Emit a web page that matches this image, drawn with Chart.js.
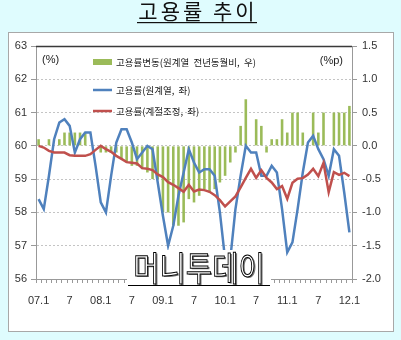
<!DOCTYPE html>
<html>
<head>
<meta charset="utf-8">
<script src="https://cdn.jsdelivr.net/npm/chart.js@4.4.1/dist/chart.umd.min.js"></script>
<style>
  html, body { margin: 0; padding: 0; background: #dffcfe; }
  canvas { display: block; }
</style>
</head>
<body>
<canvas id="chart" width="401" height="340"></canvas>
<script>
const months = [
  '07.1','07.2','07.3','07.4','07.5','07.6','07.7','07.8','07.9','07.10','07.11','07.12',
  '08.1','08.2','08.3','08.4','08.5','08.6','08.7','08.8','08.9','08.10','08.11','08.12',
  '09.1','09.2','09.3','09.4','09.5','09.6','09.7','09.8','09.9','09.10','09.11','09.12',
  '10.1','10.2','10.3','10.4','10.5','10.6','10.7','10.8','10.9','10.10','10.11','10.12',
  '11.1','11.2','11.3','11.4','11.5','11.6','11.7','11.8','11.9','11.10','11.11','11.12',
  '12.1'
];

// 고용률(원계열, 좌)
const rateRaw = [
  58.4, 58.1, 59.1, 60.2, 60.7, 60.8, 60.6, 59.8, 60.2, 60.4, 60.4, 59.4,
  58.3, 58.0, 59.1, 60.1, 60.5, 60.5, 60.1, 59.6, 59.8, 60.0, 59.9, 58.9,
  57.9, 57.0, 57.6, 58.5, 59.2, 59.9, 59.5, 59.2, 59.3, 59.3, 59.1, 58.0,
  56.6, 56.6, 58.1, 59.1, 60.0, 59.8, 59.8, 59.1, 59.1, 59.4, 59.2, 58.1,
  56.8, 57.1, 58.1, 59.2, 60.1, 60.3, 59.9, 59.6, 59.1, 59.9, 59.7, 58.6,
  57.4
];

// 고용률(계절조정, 좌)
const rateSA = [
  60.0, 59.95, 59.85, 59.8, 59.8, 59.8, 59.72, 59.7, 59.7, 59.7, 59.75, 59.88,
  60.0, 59.9, 59.82, 59.7, 59.61, 59.51, 59.49, 59.47, 59.33, 59.31, 59.27, 59.14,
  59.06, 58.91, 58.83, 58.73, 58.62, 58.83, 58.63, 58.69, 58.67, 58.62, 58.52, 58.37,
  58.18, 58.33, 58.48, 58.75, 59.04, 59.31, 59.04, 59.27, 59.04, 58.9, 58.7, 58.79,
  58.41, 58.89, 59.01, 59.03, 59.14, 59.31, 59.09, 59.49, 58.61, 59.21, 59.13, 59.19,
  59.09
];

// 고용률변동(원계열 전년동월비, 우)
const rateChange = [
  0.1, 0, 0.1, 0, 0.1, 0.2, 0.2, 0.2, 0.2, 0.2, 0, 0,
  -0.1, -0.1, -0.1, -0.1, -0.2, -0.25, -0.3, -0.3, -0.35, -0.4, -0.5, -0.5,
  -1.0, -1.0, -1.2, -1.2, -1.15, -0.8, -0.85, -0.75, -0.65, -0.7, -0.65, -0.55,
  -0.45, -0.25, -0.1, 0.3, 0.7, 0, 0.4, 0.3, -0.1, 0.1, 0.1, 0.4,
  0.2, 0.5, 0.5, 0.2, 0, 0.5, 0.2, 0.5, 0, 0.5, 0.5, 0.5,
  0.6
];

const seriesNames = ['고용률변동(원계열  전년동월비,  우)', '고용률(원계열,  좌)', '고용률(계절조정,  좌)'];
const titleText = '고용률 추이';
const watermark = '머니투데이';

const tickFont = { family: '"Liberation Sans", Arial, sans-serif', size: 11 };
const koFont = '"Noto Sans CJK KR", sans-serif';

// background, frame, title, legend, units, watermark
const decor = {
  id: 'decor',
  beforeDraw(chart) {
    const ctx = chart.ctx;
    ctx.save();
    ctx.fillStyle = '#dffcfe';
    ctx.fillRect(0, 0, chart.width, chart.height);
    ctx.fillStyle = '#ffffff';
    ctx.fillRect(8.5, 32.5, 385, 299);
    ctx.strokeStyle = '#a8a8a8';
    ctx.lineWidth = 1;
    ctx.strokeRect(8.5, 32.5, 385, 299);

    ctx.font = '21px ' + koFont;
    ctx.letterSpacing = '3px';
    ctx.fillStyle = '#111';
    ctx.textAlign = 'left';
    ctx.textBaseline = 'alphabetic';
    const w = ctx.measureText(titleText).width;
    ctx.fillText(titleText, 198 - w / 2, 19);
    ctx.fillRect(137, 22, 120, 1.2);
    ctx.restore();
  },
  afterDraw(chart) {
    const ctx = chart.ctx;
    const a = chart.chartArea;
    ctx.save();
    // top border of the plot
    ctx.strokeStyle = '#3a3a3a';
    ctx.lineWidth = 1.3;
    ctx.beginPath();
    ctx.moveTo(a.left, a.top + 0.5);
    ctx.lineTo(a.right, a.top + 0.5);
    ctx.stroke();

    // units
    ctx.fillStyle = '#222';
    ctx.font = '11px "Liberation Sans", Arial, sans-serif';
    ctx.textBaseline = 'middle';
    ctx.textAlign = 'left';
    ctx.fillText('(%)', a.left + 6, a.top + 14);
    ctx.textAlign = 'right';
    ctx.fillText('(%p)', a.right - 9, a.top + 15);

    // legend
    const lx = 93, tx = 116;
    const ly = [62, 90, 111];
    ctx.fillStyle = '#9bbb59';
    ctx.fillRect(lx, ly[0] - 3, 19, 6);
    ctx.lineWidth = 2.5;
    ctx.strokeStyle = '#4f81bd';
    ctx.beginPath(); ctx.moveTo(lx, ly[1]); ctx.lineTo(lx + 19, ly[1]); ctx.stroke();
    ctx.strokeStyle = '#c0504d';
    ctx.beginPath(); ctx.moveTo(lx, ly[2]); ctx.lineTo(lx + 19, ly[2]); ctx.stroke();
    ctx.fillStyle = '#222';
    ctx.font = '9.5px ' + koFont;
    ctx.textAlign = 'left';
    ctx.textBaseline = 'middle';
    seriesNames.forEach((s, i) => ctx.fillText(s, tx, ly[i]));

    // watermark
    ctx.fillStyle = '#ffffff';
    ctx.fillRect(127, 250, 144, 36);
    ctx.strokeStyle = '#000';
    ctx.lineWidth = 1;
    ctx.beginPath();
    ctx.moveTo(128, 285.5); ctx.lineTo(270, 285.5);
    ctx.stroke();
    ctx.translate(199, 268);
    ctx.scale(0.84, 1);
    ctx.font = '34px ' + koFont;
    ctx.textAlign = 'center';
    ctx.textBaseline = 'middle';
    ctx.shadowColor = '#777';
    ctx.shadowOffsetX = 1.5;
    ctx.shadowOffsetY = 1;
    ctx.fillStyle = '#fff';
    ctx.fillText(watermark, 0, 0);
    ctx.shadowColor = 'transparent';
    ctx.lineWidth = 1;
    ctx.strokeText(watermark, 0, 0);
    ctx.restore();
  }
};

new Chart(document.getElementById('chart'), {
  type: 'bar',
  data: {
    labels: months,
    datasets: [
      {
        type: 'line',
        label: seriesNames[2],
        data: rateSA,
        yAxisID: 'y',
        borderColor: '#c0504d',
        borderWidth: 2.5,
        pointRadius: 0,
        tension: 0,
        order: 1
      },
      {
        type: 'line',
        label: seriesNames[1],
        data: rateRaw,
        yAxisID: 'y',
        borderColor: '#4f81bd',
        borderWidth: 2.5,
        pointRadius: 0,
        tension: 0,
        order: 2
      },
      {
        type: 'bar',
        label: seriesNames[0],
        data: rateChange,
        yAxisID: 'y1',
        backgroundColor: '#9bbb59',
        barPercentage: 0.5,
        categoryPercentage: 1,
        order: 3
      }
    ]
  },
  options: {
    responsive: false,
    devicePixelRatio: 1,
    animation: false,
    layout: { padding: { top: 46, left: 0, right: 0, bottom: 0 } },
    plugins: {
      legend: { display: false },
      tooltip: { enabled: false }
    },
    scales: {
      x: {
        offset: true,
        grid: { drawOnChartArea: false, drawTicks: true, tickLength: 4, color: '#999', offset: true },
        border: { display: true, color: '#999' },
        ticks: {
          autoSkip: false,
          maxRotation: 0,
          padding: 11,
          color: '#333',
          font: tickFont,
          callback: (v, i) => {
            const m = months[i];
            if (m.endsWith('.1')) return m;
            if (m.endsWith('.7')) return '7';
            return '';
          }
        },
        afterFit: s => { s.height = 61; }
      },
      y: {
        position: 'left',
        min: 56,
        max: 63,
        ticks: { stepSize: 1, padding: 4, color: '#333', font: tickFont },
        grid: { color: '#c4c4c4', tickColor: '#999', tickLength: 5, tickBorderDash: [] },
        border: { display: true, color: '#999', dash: [2, 2] },
        afterFit: s => { s.width = 36; }
      },
      y1: {
        position: 'right',
        min: -2,
        max: 1.5,
        ticks: { stepSize: 0.5, padding: 5, color: '#333', font: tickFont, callback: v => v.toFixed(1) },
        grid: { drawOnChartArea: false, color: '#999', tickLength: 5 },
        border: { display: true, color: '#999' },
        afterFit: s => { s.width = 49; }
      }
    }
  },
  plugins: [decor]
});
</script>
</body>
</html>
